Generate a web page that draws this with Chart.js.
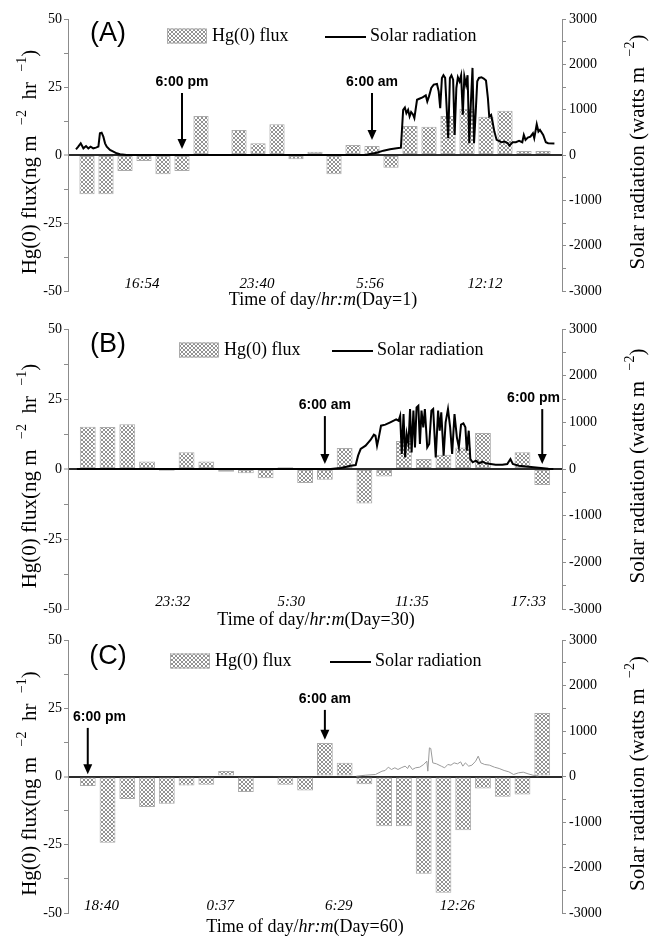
<!DOCTYPE html>
<html>
<head>
<meta charset="utf-8">
<title>Hg(0) flux and solar radiation</title>
<script src="https://cdn.jsdelivr.net/npm/chart.js@4.4.1/dist/chart.umd.min.js"></script>
<style>
    html, body { margin: 0; padding: 0; background: #fff; }
    #page { position: relative; width: 652px; height: 938px; overflow: hidden; }
    #page canvas { position: absolute; left: 0; }
</style>
</head>
<body>
<div id="page">
    <canvas id="chartA" width="652" height="312" style="top:0px"></canvas>
    <canvas id="chartB" width="652" height="322" style="top:310px"></canvas>
    <canvas id="chartC" width="652" height="318" style="top:620px"></canvas>
</div>
<script>
// Hg(0) flux per sampling interval (ng m-2 hr-1), one bar per interval
const FLUX_A = [-14.4, -14.4, -5.9, -2.2, -7.1, -5.9, 14.3, 0, 9.2, 4.3, 11.3, -1.6, 1.2,
    -7.1, 3.7, 3.3, -4.7, 10.7, 10.4, 14.3, 17.0, 14.1, 16.3, 1.5, 1.5];
const FLUX_B = [15.1, 15, 16, 2.7, -0.6, 6, 2.7, -1, -1.5, -3.3, 0.6, -5, -3.8,
    7.5, -12.3, -2.7, 10, 3.6, 5.1, 7.7, 12.9, 0.4, 6, -5.7];
const FLUX_C = [-3.5, -24.3, -8.2, -11.2, -10, -3.3, -3, 2, -5.7, 0.5, -3, -5.1,
    12.3, 5, -2.8, -18.2, -18.2, -35.6, -42.6, -19.7, -4.4, -7.4, -6.6, 23.3];

// Solar radiation [interval position, watts m-2]
const SOLAR_A = [
    [0.42, 125], [0.54, 184], [0.67, 257], [0.81, 147], [0.95, 198], [1.07, 147], [1.19, 184],
    [1.33, 147], [1.47, 162], [1.6, 184], [1.68, 478], [1.77, 492], [1.86, 404], [1.95, 257],
    [2.04, 184], [2.21, 110], [2.39, 74], [2.56, 37], [2.74, 15], [3.09, 0], [15.72, 0],
    [15.89, 22], [16.25, 51], [16.6, 96], [16.95, 125], [17.3, 147], [17.52, 160],
    [17.64, 997], [17.73, 1049], [17.81, 923], [17.9, 997], [17.98, 850], [18.06, 946],
    [18.15, 901], [18.23, 813], [18.37, 1219], [18.49, 1241], [18.66, 1271], [18.83, 1315],
    [18.91, 1182], [19.0, 1293], [19.12, 1478], [19.25, 1552], [19.42, 1567], [19.51, 1404],
    [19.59, 1035], [19.68, 1700], [19.76, 1759], [19.85, 1700], [19.93, 1035], [20.01, 370],
    [20.1, 1700], [20.18, 1759], [20.27, 1663], [20.35, 443], [20.44, 1478], [20.52, 1715],
    [20.61, 1626], [20.69, 1759], [20.78, 887], [20.86, 1737], [20.95, 1552], [21.03, 1759],
    [21.12, 259], [21.2, 1109], [21.29, 1921], [21.37, 259], [21.46, 961], [21.54, 1626],
    [21.63, 1700], [21.76, 1715], [21.88, 1685], [22.0, 1641], [22.1, 1256], [22.17, 850],
    [22.27, 887], [22.34, 739], [22.44, 517], [22.56, 333], [22.68, 310], [22.81, 281],
    [22.98, 296], [23.15, 259], [23.23, 207], [23.4, 281], [23.57, 281], [23.74, 310],
    [23.91, 281], [23.99, 443], [24.08, 333], [24.2, 384], [24.34, 406], [24.47, 480],
    [24.54, 370], [24.67, 680], [24.76, 517], [24.84, 554], [25.01, 443], [25.15, 281],
    [25.27, 259], [25.6, 255]
];
const SOLAR_B = [
    [0.45, 0], [13.3, 0], [13.81, 21], [14.31, 71], [14.56, 86], [14.68, 286], [14.81, 428],
    [15.06, 500], [15.31, 621], [15.48, 735], [15.56, 714], [15.64, 500], [15.73, 678],
    [15.84, 928], [16.06, 950], [16.31, 1000], [16.48, 1035], [16.61, 1064], [16.73, 1035],
    [16.81, 1142], [16.89, 321], [16.98, 1178], [17.06, 250], [17.14, 750], [17.23, 536],
    [17.31, 1285], [17.39, 357], [17.48, 1250], [17.56, 464], [17.64, 1321], [17.73, 1357],
    [17.81, 536], [17.89, 1250], [17.98, 893], [18.06, 1285], [18.18, 464], [18.28, 536],
    [18.39, 1250], [18.48, 1285], [18.61, 250], [18.73, 1250], [18.81, 821], [18.89, 1214],
    [19.01, 286], [19.11, 1000], [19.23, 1285], [19.34, 893], [19.44, 321], [19.56, 1178],
    [19.68, 678], [19.78, 464], [19.89, 950], [20.01, 978], [20.11, 893], [20.18, 393],
    [20.28, 821], [20.36, 214], [20.48, 143], [20.64, 178], [20.81, 121], [20.98, 157],
    [21.14, 121], [21.39, 107], [21.64, 93], [21.98, 93], [22.23, 107], [22.39, 214],
    [22.51, 107], [22.81, 71], [23.31, 50], [23.81, 29], [24.31, 7], [24.56, 0]
];
const SOLAR_C = [
    [14.59, 7], [15.07, 29], [15.56, 44], [15.89, 117], [16.05, 132], [16.21, 205],
    [16.37, 154], [16.54, 191], [16.7, 154], [16.86, 191], [17.06, 227], [17.19, 176],
    [17.27, 249], [17.43, 154], [17.59, 191], [17.8, 205], [18.0, 264], [18.16, 337],
    [18.21, 117], [18.29, 630], [18.36, 616], [18.46, 300], [18.65, 278], [18.89, 227],
    [19.06, 191], [19.22, 264], [19.38, 249], [19.54, 300], [19.71, 278], [19.87, 322],
    [19.98, 227], [20.11, 300], [20.28, 227], [20.44, 249], [20.63, 337], [20.76, 447],
    [20.89, 300], [21.09, 264], [21.33, 249], [21.58, 205], [21.82, 176], [22.07, 132],
    [22.31, 103], [22.55, 44], [22.8, 81], [23.04, 95], [23.28, 59], [23.53, 29], [23.8, 12]
];

// Clock labels along the time axis and where they sit (interval position)
const HOURS_A = ['16:54', '23:40', '5:56', '12:12'];
const HOUR_AT_A = [3.9, 9.95, 15.9, 21.95];
const HOURS_B = ['23:32', '5:30', '11:35', '17:33'];
const HOUR_AT_B = [5.3, 11.3, 17.4, 23.3];
const HOURS_C = ['18:40', '0:37', '6:29', '12:26'];
const HOUR_AT_C = [1.7, 7.7, 13.7, 19.7];

// Sunset / sunrise markers: interval position, arrow tail and tip (flux units)
const MARKS_A = [
    { text: '6:00 pm', at: 6, tail: 22.8, tip: 2.2 },
    { text: '6:00 am', at: 16, tail: 22.8, tip: 5.5 }
];
const MARKS_B = [
    { text: '6:00 am', at: 13, tail: 18.9, tip: 1.8 },
    { text: '6:00 pm', at: 24, tail: 21.4, tip: 1.8 }
];
const MARKS_C = [
    { text: '6:00 pm', at: 1, tail: 17.8, tip: 0.8 },
    { text: '6:00 am', at: 13, tail: 24.4, tip: 13.5 }
];

const AXIS_GREY = '#8c8c8c';
const BAR_EDGE = '#ababab';
const SERIF = '"Liberation Serif", "Times New Roman", serif';
const SANS = '"Liberation Sans", Arial, sans-serif';

const PANELS = [
    {
        id: 'chartA', letter: '(A)', day: '1', slots: 26,
        flux: FLUX_A, solar: SOLAR_A, hours: HOURS_A, hourAt: HOUR_AT_A, marks: MARKS_A,
        line: { color: '#000', width: 2 },
        pad: { top: 19, bottom: 21 },
        letterDy: 15, legendDy: 17, legendBox: 167, legendLine: 325,
        titleX: 323, titleDy: 9, markAlign: ['center', 'center']
    },
    {
        id: 'chartB', letter: '(B)', day: '30', slots: 25,
        flux: FLUX_B, solar: SOLAR_B, hours: HOURS_B, hourAt: HOUR_AT_B, marks: MARKS_B,
        line: { color: '#000', width: 2 },
        pad: { top: 19, bottom: 23 },
        letterDy: 16, legendDy: 21, legendBox: 179, legendLine: 332,
        titleX: 316, titleDy: 11, markAlign: ['center', 'right']
    },
    {
        id: 'chartC', letter: '(C)', day: '60', slots: 25,
        flux: FLUX_C, solar: SOLAR_C, hours: HOURS_C, hourAt: HOUR_AT_C, marks: MARKS_C,
        line: { color: '#9a9a9a', width: 1 },
        pad: { top: 20, bottom: 25 },
        letterDy: 17, legendDy: 21, legendBox: 170, legendLine: 330,
        titleX: 305, titleDy: 14, markAlign: ['left', 'center']
    }
];

// Small diamond cross-hatch used for the flux bars
function makeHatch() {
    const c = document.createElement('canvas');
    c.width = 4;
    c.height = 4;
    const g = c.getContext('2d');
    g.fillStyle = '#fff';
    g.fillRect(0, 0, 4, 4);
    g.fillStyle = '#929292';
    for (let i = 0; i < 4; i++) {
        g.fillRect(i, i, 1, 1);
        g.fillRect(3 - i, i, 1, 1);
    }
    return g.createPattern(c, 'repeat');
}
const HATCH = makeHatch();

// Draws a row of text pieces (mixed fonts, superscripts) centred on cx, cy
function drawRuns(ctx, runs, cx, cy, angle) {
    ctx.save();
    ctx.translate(cx, cy);
    ctx.rotate(angle);
    ctx.textAlign = 'left';
    ctx.textBaseline = 'middle';
    let total = 0;
    const widths = runs.map(r => {
        ctx.font = r.font;
        const w = ctx.measureText(r.text).width;
        total += w;
        return w;
    });
    let x = -total / 2;
    runs.forEach((r, i) => {
        ctx.font = r.font;
        ctx.fillText(r.text, x, r.dy || 0);
        x += widths[i];
    });
    ctx.restore();
}

function drawArrow(ctx, x, yTail, yTip) {
    const head = 10, half = 4.5;
    ctx.beginPath();
    ctx.moveTo(x, yTail);
    ctx.lineTo(x, yTip - head + 1);
    ctx.stroke();
    ctx.beginPath();
    ctx.moveTo(x - half, yTip - head);
    ctx.lineTo(x + half, yTip - head);
    ctx.lineTo(x, yTip);
    ctx.closePath();
    ctx.fill();
}

// Panel letter, legend, clock labels, axis titles and day/night arrows
function decorFor(p) {
    return {
        id: 'panelDecor',
        afterDraw(chart) {
            const ctx = chart.ctx;
            const a = chart.chartArea;
            const xs = chart.scales.x;
            const ys = chart.scales.y;
            const main = '21px ' + SERIF;
            const sup = '14px ' + SERIF;

            ctx.save();
            ctx.fillStyle = '#000';
            ctx.strokeStyle = '#000';

            ctx.font = '27px ' + SANS;
            ctx.textAlign = 'center';
            ctx.textBaseline = 'middle';
            ctx.fillText(p.letter, 108, a.top + p.letterDy);

            // legend
            const ly = a.top + p.legendDy;
            ctx.fillStyle = HATCH;
            ctx.fillRect(p.legendBox, ly - 7.5, 40, 15);
            ctx.strokeStyle = BAR_EDGE;
            ctx.lineWidth = 1;
            ctx.strokeRect(p.legendBox + 0.5, ly - 7, 39, 14);
            ctx.strokeStyle = '#000';
            ctx.lineWidth = 2;
            ctx.beginPath();
            ctx.moveTo(p.legendLine, ly + 1);
            ctx.lineTo(p.legendLine + 41, ly + 1);
            ctx.stroke();
            ctx.fillStyle = '#000';
            ctx.font = '18px ' + SERIF;
            ctx.textAlign = 'left';
            ctx.fillText('Hg(0) flux', p.legendBox + 45, ly);
            ctx.fillText('Solar radiation', p.legendLine + 45, ly);

            // clock labels inside the bottom of the plot
            ctx.font = 'italic 15px ' + SERIF;
            ctx.textAlign = 'center';
            p.hours.forEach((h, i) => {
                ctx.fillText(h, xs.getPixelForValue(p.hourAt[i]), a.bottom - 7);
            });

            // axis titles
            drawRuns(ctx, [
                { text: 'Time of day/', font: '18px ' + SERIF },
                { text: 'hr:m', font: 'italic 18px ' + SERIF },
                { text: '(Day=' + p.day + ')', font: '18px ' + SERIF }
            ], p.titleX, a.bottom + p.titleDy, 0);

            const midY = (a.top + a.bottom) / 2;
            drawRuns(ctx, [
                { text: 'Hg(0) flux(ng m  ', font: main },
                { text: '\u22122', font: sup, dy: -8 },
                { text: '  hr  ', font: main },
                { text: '\u22121', font: sup, dy: -8 },
                { text: ')', font: main }
            ], 30, midY + 7, -Math.PI / 2);
            drawRuns(ctx, [
                { text: 'Solar radiation (watts m  ', font: main },
                { text: '\u22122', font: sup, dy: -8 },
                { text: ')', font: main }
            ], 638, midY - 3, -Math.PI / 2);

            // arrows
            ctx.lineWidth = 2;
            ctx.fillStyle = '#000';
            ctx.strokeStyle = '#000';
            ctx.font = 'bold 14px ' + SANS;
            p.marks.forEach((m, i) => {
                const x = xs.getPixelForValue(m.at);
                const yTail = ys.getPixelForValue(m.tail);
                const yTip = ys.getPixelForValue(m.tip);
                drawArrow(ctx, x, yTail, yTip);
                const align = p.markAlign[i];
                ctx.textAlign = align;
                let tx = x;
                if (align === 'right') tx = a.right - 2;
                if (align === 'left') tx = a.left + 5;
                ctx.fillText(m.text, tx, yTail - 11);
            });
            ctx.restore();
        }
    };
}

function buildChart(p) {
    const tickFont = { family: SERIF, size: 14 };
    return new Chart(document.getElementById(p.id), {
        type: 'bar',
        data: {
            datasets: [
                {
                    type: 'line',
                    label: 'Solar radiation',
                    data: p.solar.map(d => ({ x: d[0], y: d[1] })),
                    yAxisID: 'y1',
                    borderColor: p.line.color,
                    borderWidth: p.line.width,
                    pointRadius: 0,
                    tension: 0,
                    order: 1
                },
                {
                    label: 'Hg(0) flux',
                    data: p.flux.map((v, i) => ({ x: i + 1, y: v })),
                    yAxisID: 'y',
                    backgroundColor: HATCH,
                    borderColor: BAR_EDGE,
                    borderWidth: 1,
                    borderSkipped: false,
                    barPercentage: 0.8,
                    categoryPercentage: 1,
                    order: 2
                }
            ]
        },
        options: {
            responsive: false,
            animation: false,
            events: [],
            layout: { padding: { top: p.pad.top, bottom: p.pad.bottom, left: 0, right: 0 } },
            plugins: {
                legend: { display: false },
                tooltip: { enabled: false }
            },
            scales: {
                x: {
                    type: 'linear',
                    min: 0,
                    max: p.slots,
                    offset: false,
                    display: false
                },
                y: {
                    position: 'left',
                    min: -50,
                    max: 50,
                    ticks: {
                        stepSize: 12.5,
                        autoSkip: false,
                        padding: 2,
                        color: '#000',
                        font: tickFont,
                        callback: v => (v % 25 === 0 ? String(v) : '')
                    },
                    grid: {
                        drawOnChartArea: true,
                        color: c => (c.tick && c.tick.value === 0 ? '#2a2a2a' : 'rgba(0,0,0,0)'),
                        lineWidth: c => (c.tick && c.tick.value === 0 ? 2 : 1),
                        tickColor: AXIS_GREY,
                        tickLength: 4,
                        tickWidth: 1
                    },
                    border: { color: AXIS_GREY, width: 1 },
                    afterFit: s => { s.width = 68; }
                },
                y1: {
                    position: 'right',
                    min: -3000,
                    max: 3000,
                    ticks: {
                        stepSize: 500,
                        autoSkip: false,
                        padding: 3,
                        color: '#000',
                        font: tickFont,
                        callback: v => (v % 1000 === 0 ? String(v) : '')
                    },
                    grid: {
                        drawOnChartArea: false,
                        tickColor: AXIS_GREY,
                        tickLength: 4,
                        tickWidth: 1
                    },
                    border: { color: AXIS_GREY, width: 1 },
                    afterFit: s => { s.width = 90; }
                }
            }
        },
        plugins: [decorFor(p)]
    });
}

PANELS.forEach(buildChart);
</script>
</body>
</html>
